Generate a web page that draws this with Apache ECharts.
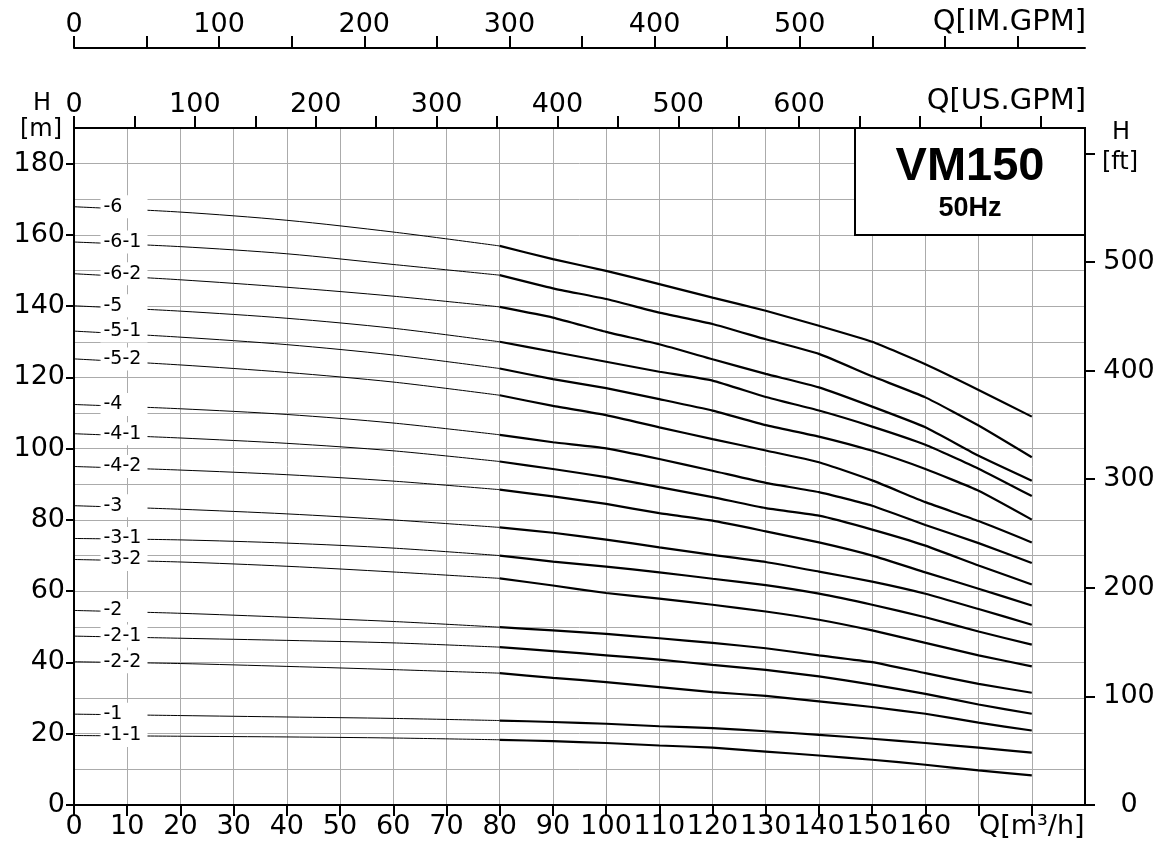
<!DOCTYPE html>
<html>
<head>
<meta charset="utf-8">
<script src="https://cdn.jsdelivr.net/npm/echarts@6/dist/echarts.min.js"></script>
<style>
html,body{margin:0;padding:0;background:#fff;}
#c{width:1169px;height:844px;}
</style>
</head>
<body>
<div id="c"></div>
<script>
// ---- data ----
const curveNames = ['-6','-6-1','-6-2','-5','-5-1','-5-2','-4','-4-1','-4-2','-3','-3-1','-3-2','-2','-2-1','-2-2','-1','-1-1'];
const qLow = [0, 20, 40, 60, 80];
const qHigh = [80, 90, 100, 110, 120, 130, 140, 150, 160, 170, 180];
const headLow = [
  [167.9, 166.4, 164.1, 160.8, 156.9],
  [158.0, 156.7, 154.7, 151.7, 148.7],
  [149.1, 147.4, 145.3, 142.8, 139.8],
  [140.1, 138.6, 136.6, 133.8, 130.0],
  [133.0, 131.3, 129.2, 126.3, 122.5],
  [125.2, 123.5, 121.4, 118.7, 115.0],
  [112.4, 111.2, 109.6, 107.2, 103.9],
  [104.2, 103.0, 101.5, 99.4, 96.4],
  [95.0, 94.0, 92.7, 90.9, 88.5],
  [84.0, 83.0, 81.7, 80.0, 77.9],
  [74.8, 74.4, 73.5, 72.1, 70.0],
  [68.9, 68.2, 67.0, 65.4, 63.6],
  [54.6, 53.8, 52.7, 51.5, 49.9],
  [47.4, 46.8, 46.2, 45.5, 44.3],
  [40.2, 39.7, 38.9, 38.0, 37.0],
  [25.5, 25.1, 24.7, 24.3, 23.7],
  [19.5, 19.3, 19.1, 18.8, 18.3]
];
const headHigh = [
  [156.9, 153.2, 149.9, 146.2, 142.4, 138.7, 134.5, 130.0, 123.7, 116.5, 109.0],
  [148.7, 145.0, 142.0, 138.2, 135.0, 130.7, 126.6, 120.3, 114.4, 106.5, 97.6],
  [139.8, 136.8, 132.8, 129.3, 125.1, 121.0, 117.2, 111.8, 106.0, 98.0, 91.0],
  [130.0, 127.2, 124.4, 121.6, 119.1, 114.5, 110.7, 106.2, 101.1, 94.4, 86.7],
  [122.5, 119.5, 117.0, 113.9, 110.7, 106.6, 103.4, 99.4, 94.3, 88.2, 80.1],
  [115.0, 112.0, 109.4, 106.0, 102.7, 99.5, 96.2, 91.1, 85.0, 79.7, 73.7],
  [103.9, 101.8, 100.1, 97.1, 93.8, 90.4, 87.8, 84.0, 78.6, 73.5, 67.9],
  [96.4, 94.3, 92.0, 89.2, 86.4, 83.3, 81.2, 77.3, 72.8, 67.2, 61.9],
  [88.5, 86.6, 84.5, 81.9, 79.8, 76.8, 73.7, 70.0, 65.3, 60.7, 56.0],
  [77.9, 76.4, 74.5, 72.3, 70.2, 68.2, 65.5, 62.7, 59.3, 55.0, 50.6],
  [70.0, 68.3, 66.9, 65.3, 63.5, 61.7, 59.3, 56.2, 52.7, 48.7, 45.0],
  [63.6, 61.6, 59.5, 57.9, 56.2, 54.3, 52.0, 49.0, 45.5, 42.0, 38.9],
  [49.9, 49.0, 48.0, 46.8, 45.5, 44.0, 42.0, 40.1, 37.0, 34.0, 31.5],
  [44.3, 43.2, 42.0, 40.8, 39.3, 37.9, 36.1, 33.8, 31.2, 28.2, 25.6],
  [37.0, 35.7, 34.5, 33.1, 31.7, 30.6, 29.1, 27.5, 25.6, 23.1, 20.9],
  [23.7, 23.3, 22.8, 22.1, 21.6, 20.7, 19.7, 18.6, 17.4, 16.1, 14.7],
  [18.3, 17.9, 17.4, 16.7, 16.1, 15.0, 13.9, 12.7, 11.3, 9.7, 8.3]
];
const qMax = 190;          // m3/h, plot extent
const hMax = 190;          // m, plot extent
const qTickMax = 180;      // last m3/h tick
const hTickMax = 180;      // last m tick
const usTickMax = 800;     // last US GPM tick
const imTickMax = 650;     // last IM GPM tick
const ftTickMax = 600;     // last ft tick
const US_PER_M3H = 4.40287, IM_PER_M3H = 3.66615, FT_PER_M = 3.28084;

// ---- layout ----
const W = 1169, H = 844;
const GL = 74, GR = 84, GT = 128, GB = 39;
const plotW = W - GL - GR, plotH = H - GT - GB;
const pxQ = plotW / qMax, pxH = plotH / hMax;

const FONT = 'DejaVu Sans';
const lblStyle = {color:'#000', fontSize:27, fontFamily:FONT};
const lineOnly = {show:true, onZero:false, lineStyle:{color:'#000', width:2}};
const noLine = {show:false, onZero:false};
const tickSt = len => ({show:true, length:len, lineStyle:{color:'#000', width:2}});
const gridLine = {show:true, lineStyle:{color:'#ababab', width:1}};
const off = {show:false};

const grids = [
  {left:GL, right:GR, top:GT, bottom:GB},                                              // 0 main
  {left:GL, width:qTickMax*pxQ, top:GT, bottom:GB},                                    // 1 bottom ticks
  {left:GL, right:GR, top:H - GB - hTickMax*pxH, bottom:GB},                           // 2 left ticks
  {left:GL, right:GR, top:H - GB - (ftTickMax/FT_PER_M)*pxH, bottom:GB},               // 3 ft ticks
  {left:GL, width:(usTickMax/US_PER_M3H)*pxQ, top:GT, bottom:GB},                      // 4 US GPM
  {left:GL, width:(imTickMax/IM_PER_M3H)*pxQ, top:GT, bottom:GB}                       // 5 IM GPM
].map(g => Object.assign({containLabel:false, outerBoundsMode:'none', show:false}, g));

const hiddenAx = (gi, mx) => ({gridIndex:gi, type:'value', show:false, min:0, max:mx, axisLine:noLine});

const xAxis = [
  // main grid
  {gridIndex:0, type:'value', position:'bottom', min:0, max:qMax, interval:10,
   axisLine:lineOnly, axisTick:off, axisLabel:off, splitLine:gridLine},
  {gridIndex:0, type:'value', position:'top', min:0, max:qMax,
   axisLine:lineOnly, axisTick:off, axisLabel:off, splitLine:off},
  {gridIndex:0, type:'value', position:'top', offset:80, min:0, max:qMax,
   axisLine:lineOnly, axisTick:off, axisLabel:off, splitLine:off},
  // bottom ticks + labels
  {gridIndex:1, type:'value', position:'bottom', min:0, max:qTickMax, interval:10,
   axisLine:noLine, axisTick:tickSt(11), splitLine:off,
   axisLabel:Object.assign({margin:8, showMaxLabel:true, showMinLabel:true,
     formatter:v => v === 180 ? 'Q[m³/h]' : (v === 170 ? '' : String(v))}, lblStyle)},
  hiddenAx(2, qMax),
  hiddenAx(3, qMax),
  // US GPM
  {gridIndex:4, type:'value', position:'top', min:0, max:usTickMax, interval:50,
   axisLine:noLine, axisTick:tickSt(12), splitLine:off,
   axisLabel:Object.assign({margin:10, showMaxLabel:true,
     formatter:v => (v % 100 === 0 && v <= 600) ? String(v) : ''}, lblStyle)},
  // IM GPM
  {gridIndex:5, type:'value', position:'top', offset:80, min:0, max:imTickMax, interval:50,
   axisLine:noLine, axisTick:tickSt(12), splitLine:off,
   axisLabel:Object.assign({margin:10, showMaxLabel:true,
     formatter:v => (v % 100 === 0 && v <= 500) ? String(v) : ''}, lblStyle)}
];

const yAxis = [
  {gridIndex:0, type:'value', position:'left', min:0, max:hMax, interval:10,
   axisLine:lineOnly, axisTick:off, axisLabel:off, splitLine:gridLine},
  {gridIndex:0, type:'value', position:'right', min:0, max:hMax,
   axisLine:lineOnly, axisTick:off, axisLabel:off, splitLine:off},
  hiddenAx(1, hMax),
  {gridIndex:2, type:'value', position:'left', min:0, max:hTickMax, interval:20,
   axisLine:noLine, axisTick:tickSt(8), splitLine:off,
   axisLabel:Object.assign({margin:9, showMaxLabel:true}, lblStyle)},
  {gridIndex:3, type:'value', position:'right', min:0, max:ftTickMax, interval:100,
   axisLine:noLine, axisTick:tickSt(10), splitLine:off,
   axisLabel:Object.assign({margin:44, align:'center', showMaxLabel:true,
     formatter:v => v >= 600 ? '' : String(v)}, lblStyle)},
  hiddenAx(4, hMax),
  hiddenAx(5, hMax)
];

const series = [];
curveNames.forEach((n, i) => {
  series.push({
    type:'line', xAxisIndex:0, yAxisIndex:0, symbol:'none', smooth:0.3, silent:true,
    lineStyle:{color:'#000', width:1},
    data: qLow.map((q, j) => [q, headLow[i][j]])
  });
  series.push({
    type:'line', xAxisIndex:0, yAxisIndex:0, symbol:'none', smooth:0.15, silent:true,
    lineStyle:{color:'#000', width:2.2},
    data: qHigh.map((q, j) => [q, headHigh[i][j]])
  });
});
series.push({
  type:'scatter', xAxisIndex:0, yAxisIndex:0, symbol:'rect', symbolSize:1, silent:true, z:10,
  itemStyle:{color:'#000', opacity:1},
  label:{show:true, position:'right', distance:26, formatter:p => p.name,
    color:'#000', opacity:1, fontSize:19, fontFamily:FONT, backgroundColor:'#fff',
    width:41, padding:[2,3,2,3], lineHeight:19, align:'left'},
  data: curveNames.map((n, i) => ({name:n, value:[0, headLow[i][0]]}))
});

const txt = (x, y, t, font, align) => ({type:'text', x:x, y:y, z:101,
  style:{text:t, fill:'#000', font:font, align:align || 'center', verticalAlign:'middle'}});

const option = {
  backgroundColor:'#fff',
  animation:false,
  grid:grids,
  xAxis:xAxis,
  yAxis:yAxis,
  graphic:[
    {type:'rect', z:100, shape:{x:855, y:128, width:230, height:107},
     style:{fill:'#fff', stroke:'#000', lineWidth:2}},
    txt(970, 167, 'VM150', 'bold 47px "Liberation Sans"'),
    txt(970, 209, '50Hz', 'bold 27px "Liberation Sans"'),
    txt(42, 104, 'H', '24px "DejaVu Sans"'),
    txt(41, 130, '[m]', '24px "DejaVu Sans"'),
    txt(1121, 133, 'H', '24px "DejaVu Sans"'),
    txt(1120, 163, '[ft]', '24px "DejaVu Sans"'),
    txt(1086, 101, 'Q[US.GPM]', '29px "DejaVu Sans"', 'right'),
    txt(1086, 22, 'Q[IM.GPM]', '29px "DejaVu Sans"', 'right')
  ],
  series: series
};
const chart = echarts.init(document.getElementById('c'), null, {renderer:'canvas'});
chart.setOption(option);
</script>
</body>
</html>
